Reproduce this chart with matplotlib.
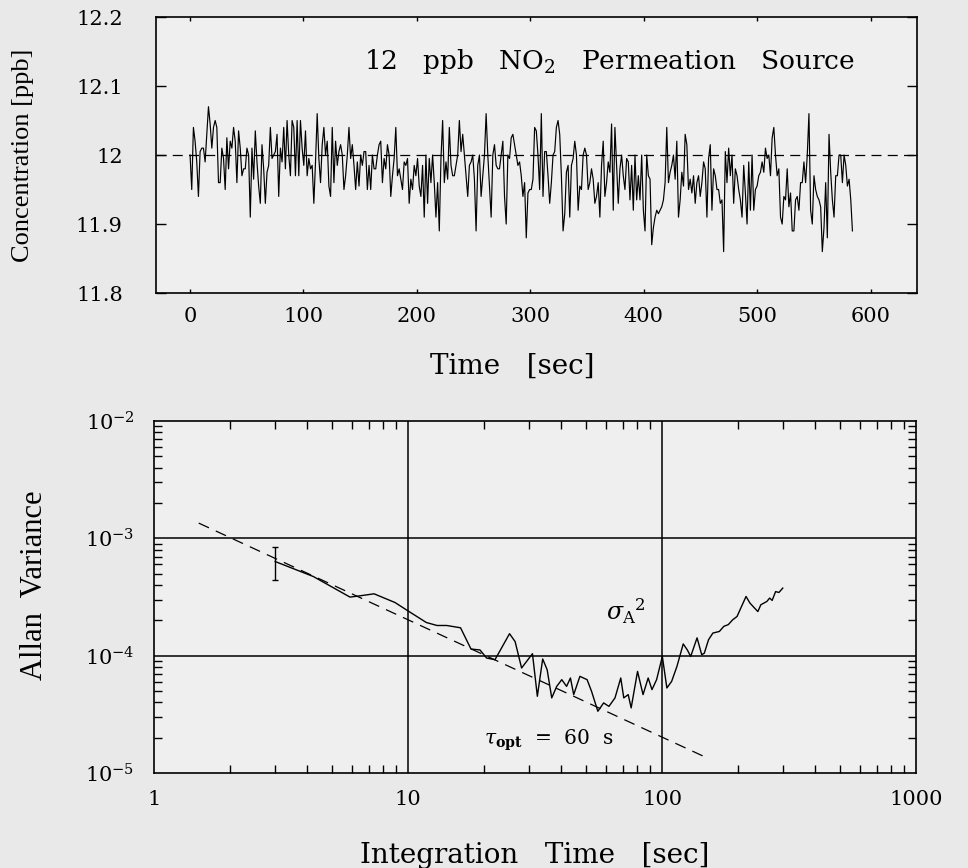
import matplotlib
matplotlib.use('Agg')
import matplotlib.pyplot as plt
import numpy as np
from matplotlib.ticker import FixedLocator, FixedFormatter, LogLocator, NullFormatter

plt.rcParams['font.family'] = 'DejaVu Serif'
plt.rcParams['mathtext.fontset'] = 'dejavuserif'

# --- datos: concentracion NO2 (ppb) ---
conc = [
    12.00, 11.95, 12.04, 12.02, 11.99, 11.94, 12.005, 12.01, 12.01, 11.99,
    12.03, 12.07, 12.045, 12.01, 12.04, 12.05, 12.04, 11.96, 11.96, 12.01,
    11.995, 11.95, 12.025, 11.98, 12.02, 12.01, 12.04, 12.02, 11.96, 12.035,
    12.01, 11.97, 11.98, 11.98, 12.01, 12.00, 11.91, 12.01, 11.965, 12.035,
    11.99, 11.955, 11.93, 12.015, 11.98, 11.93, 11.975, 11.985, 12.04, 11.995,
    12.00, 12.005, 12.03, 11.94, 12.01, 11.99, 12.04, 11.98, 12.05, 12.00,
    11.97, 12.05, 12.04, 11.97, 12.05, 11.97, 12.05,
    12.01, 11.985, 12.035, 11.97, 11.995, 11.98, 11.985, 11.93, 11.99, 12.06,
    11.995, 11.96, 12.015, 12.04, 12.00, 12.02, 11.955, 11.94, 12.04, 11.96,
    12.02, 11.985, 12.005, 12.015, 12.00, 11.95, 11.97, 12.00, 12.04, 11.995,
    12.015, 11.985, 11.95, 11.99, 11.955, 12.00, 11.985, 12.005, 12.005, 11.95,
    11.985, 11.95, 12.00, 11.98, 11.98, 12.00, 12.015, 12.02, 11.96, 11.995,
    11.98, 12.015, 12.00, 11.94, 11.97, 11.995, 12.04, 11.97, 11.98, 11.965,
    11.95, 11.99, 11.985, 11.995, 11.93, 11.965, 11.95, 11.985, 11.97, 11.995,
    11.955, 11.94, 11.985, 11.91, 12.00, 11.93, 11.995, 11.96,
    12.00, 11.96, 11.91, 11.96, 11.89, 11.995, 12.05, 11.96, 11.99, 11.965,
    12.04, 11.985, 11.97, 11.97, 11.985, 12.00, 12.05, 12.005, 12.03, 12.00,
    11.97, 11.94, 11.985, 11.99, 12.00, 11.965, 11.89, 11.985, 12.00, 11.94,
    11.97, 12.00, 12.06, 12.00, 11.955, 11.91, 12.00, 12.015, 11.985, 11.98,
    11.98, 12.00, 12.02, 11.94, 11.90, 12.00, 11.995, 12.025, 12.03, 12.015,
    12.00, 11.985, 11.99, 11.97, 11.94, 11.96, 11.88, 11.945, 11.95, 11.95,
    11.965, 12.04, 12.035, 12.00, 11.95, 12.06, 11.94, 12.005, 12.005, 11.97,
    11.93, 11.96, 12.00, 12.005, 12.04, 12.05, 12.03, 11.97, 11.89, 11.915,
    11.975, 11.985,
    11.91, 11.985, 11.995, 12.02, 12.00, 11.92, 11.955, 11.95, 12.00, 12.01,
    12.00, 11.95, 11.96, 11.98, 11.965, 11.93, 11.94, 11.96, 11.91, 11.985,
    12.02, 11.94, 11.96, 11.99, 11.975, 12.045, 11.92, 12.04, 11.985, 11.93,
    11.98, 12.00, 11.97, 11.95, 11.995, 11.99, 11.935, 11.985, 11.92, 12.00,
    11.935, 11.97, 11.935, 12.00, 11.92, 11.89, 12.00, 11.97, 11.965, 11.87,
    11.895, 11.91, 11.92, 11.915, 11.92, 11.925, 11.935, 11.96, 12.04, 11.96,
    11.975, 11.985, 12.00, 11.965, 12.02, 11.91, 11.935, 11.975, 11.955, 12.03,
    12.015, 11.95, 11.965, 11.945, 11.97, 11.93, 11.96, 11.97, 11.94, 11.96,
    11.99, 11.98, 11.91, 11.995, 12.015,
    11.92, 11.98, 11.97, 11.95, 11.95, 11.93, 11.935, 11.86, 12.005, 11.96,
    12.01, 11.97, 12.00, 11.93, 11.98, 11.97, 11.95, 11.935, 11.91, 11.985,
    11.945, 11.90, 11.99, 11.92, 12.00, 11.92, 11.95, 11.955, 11.97, 11.975,
    11.99, 11.975, 12.01, 11.995, 12.00, 11.97, 12.025, 12.04, 12.00, 11.97,
    11.98, 11.91, 11.90, 11.94, 11.935, 11.98, 11.925, 11.945, 11.89, 11.89,
    11.935, 11.94, 11.92, 11.96, 11.96, 11.99, 11.96, 12.00, 12.06, 11.92,
    11.90, 11.97, 11.95, 11.94, 11.935, 11.925, 11.86, 11.895, 11.96, 11.88,
    12.03, 11.975, 11.935, 11.91, 11.97, 11.97, 12.00, 12.00, 11.96, 12.00,
    11.985, 11.955, 11.965, 11.935, 11.89,
]
t_fin = 584
nominal = 12.0
tiempo = np.linspace(0, t_fin, len(conc))

# --- varianza de Allan ---
tau = [3, 4.24, 5.91, 6.47, 7.35, 8.89, 9.97, 11.8, 13.0, 14.2,
       16.1, 17.7, 19.2, 20.4, 22.0, 25.1, 26.4, 28.0, 30.9, 32.3,
       33.9, 35.3, 36.8, 38.5, 40.3, 42.1, 43.6, 44.9, 47.5, 50.7,
       52.8, 55.9, 58.9, 61.8, 65.3, 68.8, 70.7, 73.6, 75.6, 80.1,
       84.2, 88.2, 91.3, 95.2, 100.3, 104.5, 109.1, 114.5, 121.2, 125.8,
       129.7, 137.4, 143.3, 146.7, 152.5, 158.6, 168.2, 175.1, 182.3, 189.6,
       197.4, 214.2, 221.9, 231.3, 238.4, 245, 258.6, 265.3, 271.4, 280,
       288.6, 298.8]
allan = [6.35e-4, 4.73e-4, 3.16e-4, 3.24e-4, 3.37e-4, 2.84e-4, 2.42e-4, 1.92e-4, 1.81e-4, 1.81e-4,
         1.73e-4, 1.14e-4, 1.12e-4, 9.55e-5, 9.25e-5, 1.54e-4, 1.32e-4, 7.86e-5, 1.04e-4, 4.51e-5,
         9.38e-5, 7.6e-5, 4.37e-5, 5.48e-5, 6.25e-5, 5.48e-5, 6.46e-5, 4.66e-5, 6.67e-5, 6.25e-5,
         4.97e-5, 3.36e-5, 3.96e-5, 3.7e-5, 4.37e-5, 6.46e-5, 4.37e-5, 4.66e-5, 3.59e-5, 7.35e-5,
         4.66e-5, 6.46e-5, 5.14e-5, 6.25e-5, 9.86e-5, 5.31e-5, 6.04e-5, 8.11e-5, 1.26e-4, 1.12e-4,
         9.86e-5, 1.42e-4, 1.02e-4, 1.05e-4, 1.37e-4, 1.56e-4, 1.61e-4, 1.78e-4, 1.84e-4, 2.02e-4,
         2.16e-4, 3.2e-4, 2.81e-4, 2.55e-4, 2.38e-4, 2.72e-4, 2.9e-4, 3.1e-4, 2.96e-4, 3.52e-4,
         3.46e-4, 3.77e-4]
ajuste_tau = [1.5, 150]
ajuste_var = [1.35e-3, 1.35e-5]
err_tau = [3]
err_val = [6.35e-4]
err_lo = [4.4e-4]
err_hi = [8.5e-4]

fondo = '#e9e9e9'
fig = plt.figure(figsize=(9.68, 8.68), dpi=100, facecolor=fondo)

# ---------- panel superior ----------
ax1 = fig.add_axes([0.1612, 0.6624, 0.7862, 0.318], facecolor='#efefef')
ax1.plot(tiempo, conc, color='black', lw=0.85)
ax1.axhline(nominal, color='black', lw=0.9, ls=(0, (8, 5)))
ax1.set_xlim(-30, 641)
ax1.set_ylim(11.8, 12.2)
ax1.set_xticks(range(0, 700, 100))
ax1.set_yticks([11.8, 11.9, 12.0, 12.1, 12.2])
ax1.set_yticklabels(['11.8', '11.9', '12', '12.1', '12.2'])
ax1.tick_params(axis='x', direction='in', length=3, width=1, top=True,
                labelsize=15, pad=10)
ax1.tick_params(axis='y', direction='in', length=7, width=1, right=True,
                labelsize=15, pad=24)
ax1.set_xlabel('Time   [sec]', fontsize=20)
ax1.xaxis.set_label_coords(0.468, -0.215)
ax1.set_ylabel('Concentration [ppb]', fontsize=19, family='Liberation Serif',
               labelpad=30)
ax1.text(153, 12.135, '12   ppb   NO$_2$   Permeation   Source', fontsize=19,
         ha='left', va='center')
for s in ax1.spines.values():
    s.set_linewidth(1.2)

# ---------- panel inferior ----------
ax2 = fig.add_axes([0.1591, 0.1094, 0.7872, 0.4055], facecolor='#efefef')
ax2.set_xscale('log')
ax2.set_yscale('log')
ax2.plot(ajuste_tau, ajuste_var, color='black', lw=0.9, ls=(0, (9, 6)))
ax2.plot(tau, allan, color='black', lw=1.0)
ax2.errorbar(err_tau, err_val,
             yerr=[[err_val[0] - err_lo[0]], [err_hi[0] - err_val[0]]],
             fmt='none', ecolor='black', elinewidth=1.0, capsize=2.5, capthick=1.0)
ax2.set_xlim(1, 1000)
ax2.set_ylim(1e-5, 1e-2)
for v in [10, 100]:
    ax2.axvline(v, color='black', lw=1.1)
for v in [1e-3, 1e-4]:
    ax2.axhline(v, color='black', lw=1.1)

ax2.xaxis.set_major_locator(FixedLocator([1, 10, 100, 1000]))
ax2.xaxis.set_major_formatter(FixedFormatter(['1', '10', '100', '1000']))
ax2.yaxis.set_major_locator(FixedLocator([1e-5, 1e-4, 1e-3, 1e-2]))
ax2.yaxis.set_major_formatter(FixedFormatter(['$10^{-5}$', '$10^{-4}$',
                                              '$10^{-3}$', '$10^{-2}$']))
ax2.xaxis.set_minor_locator(LogLocator(base=10, subs=np.arange(2, 10)))
ax2.yaxis.set_minor_locator(LogLocator(base=10, subs=np.arange(2, 10)))
ax2.xaxis.set_minor_formatter(NullFormatter())
ax2.yaxis.set_minor_formatter(NullFormatter())
ax2.tick_params(which='both', direction='in', top=True, right=True, width=1)
ax2.tick_params(which='major', length=0, labelsize=15)
ax2.tick_params(which='minor', length=6)
ax2.tick_params(axis='x', pad=12)
ax2.tick_params(axis='y', pad=14)
ax2.set_xlabel('Integration   Time   [sec]', fontsize=20, labelpad=24)
ax2.set_ylabel('Allan  Variance', fontsize=22, family='Liberation Serif')
ax2.yaxis.set_label_coords(-0.138, 0.534)
ax2.text(60, 2.4e-4, r'$\sigma_{\mathrm{A}}{}^{2}$', fontsize=17,
         ha='left', va='center')
ax2.text(20, 1.9e-5, r'$\tau_{\mathbf{opt}}$  =  60  s', fontsize=14.5,
         ha='left', va='center')
for s in ax2.spines.values():
    s.set_linewidth(1.2)

fig.savefig('out.png', dpi=100, facecolor=fondo)
